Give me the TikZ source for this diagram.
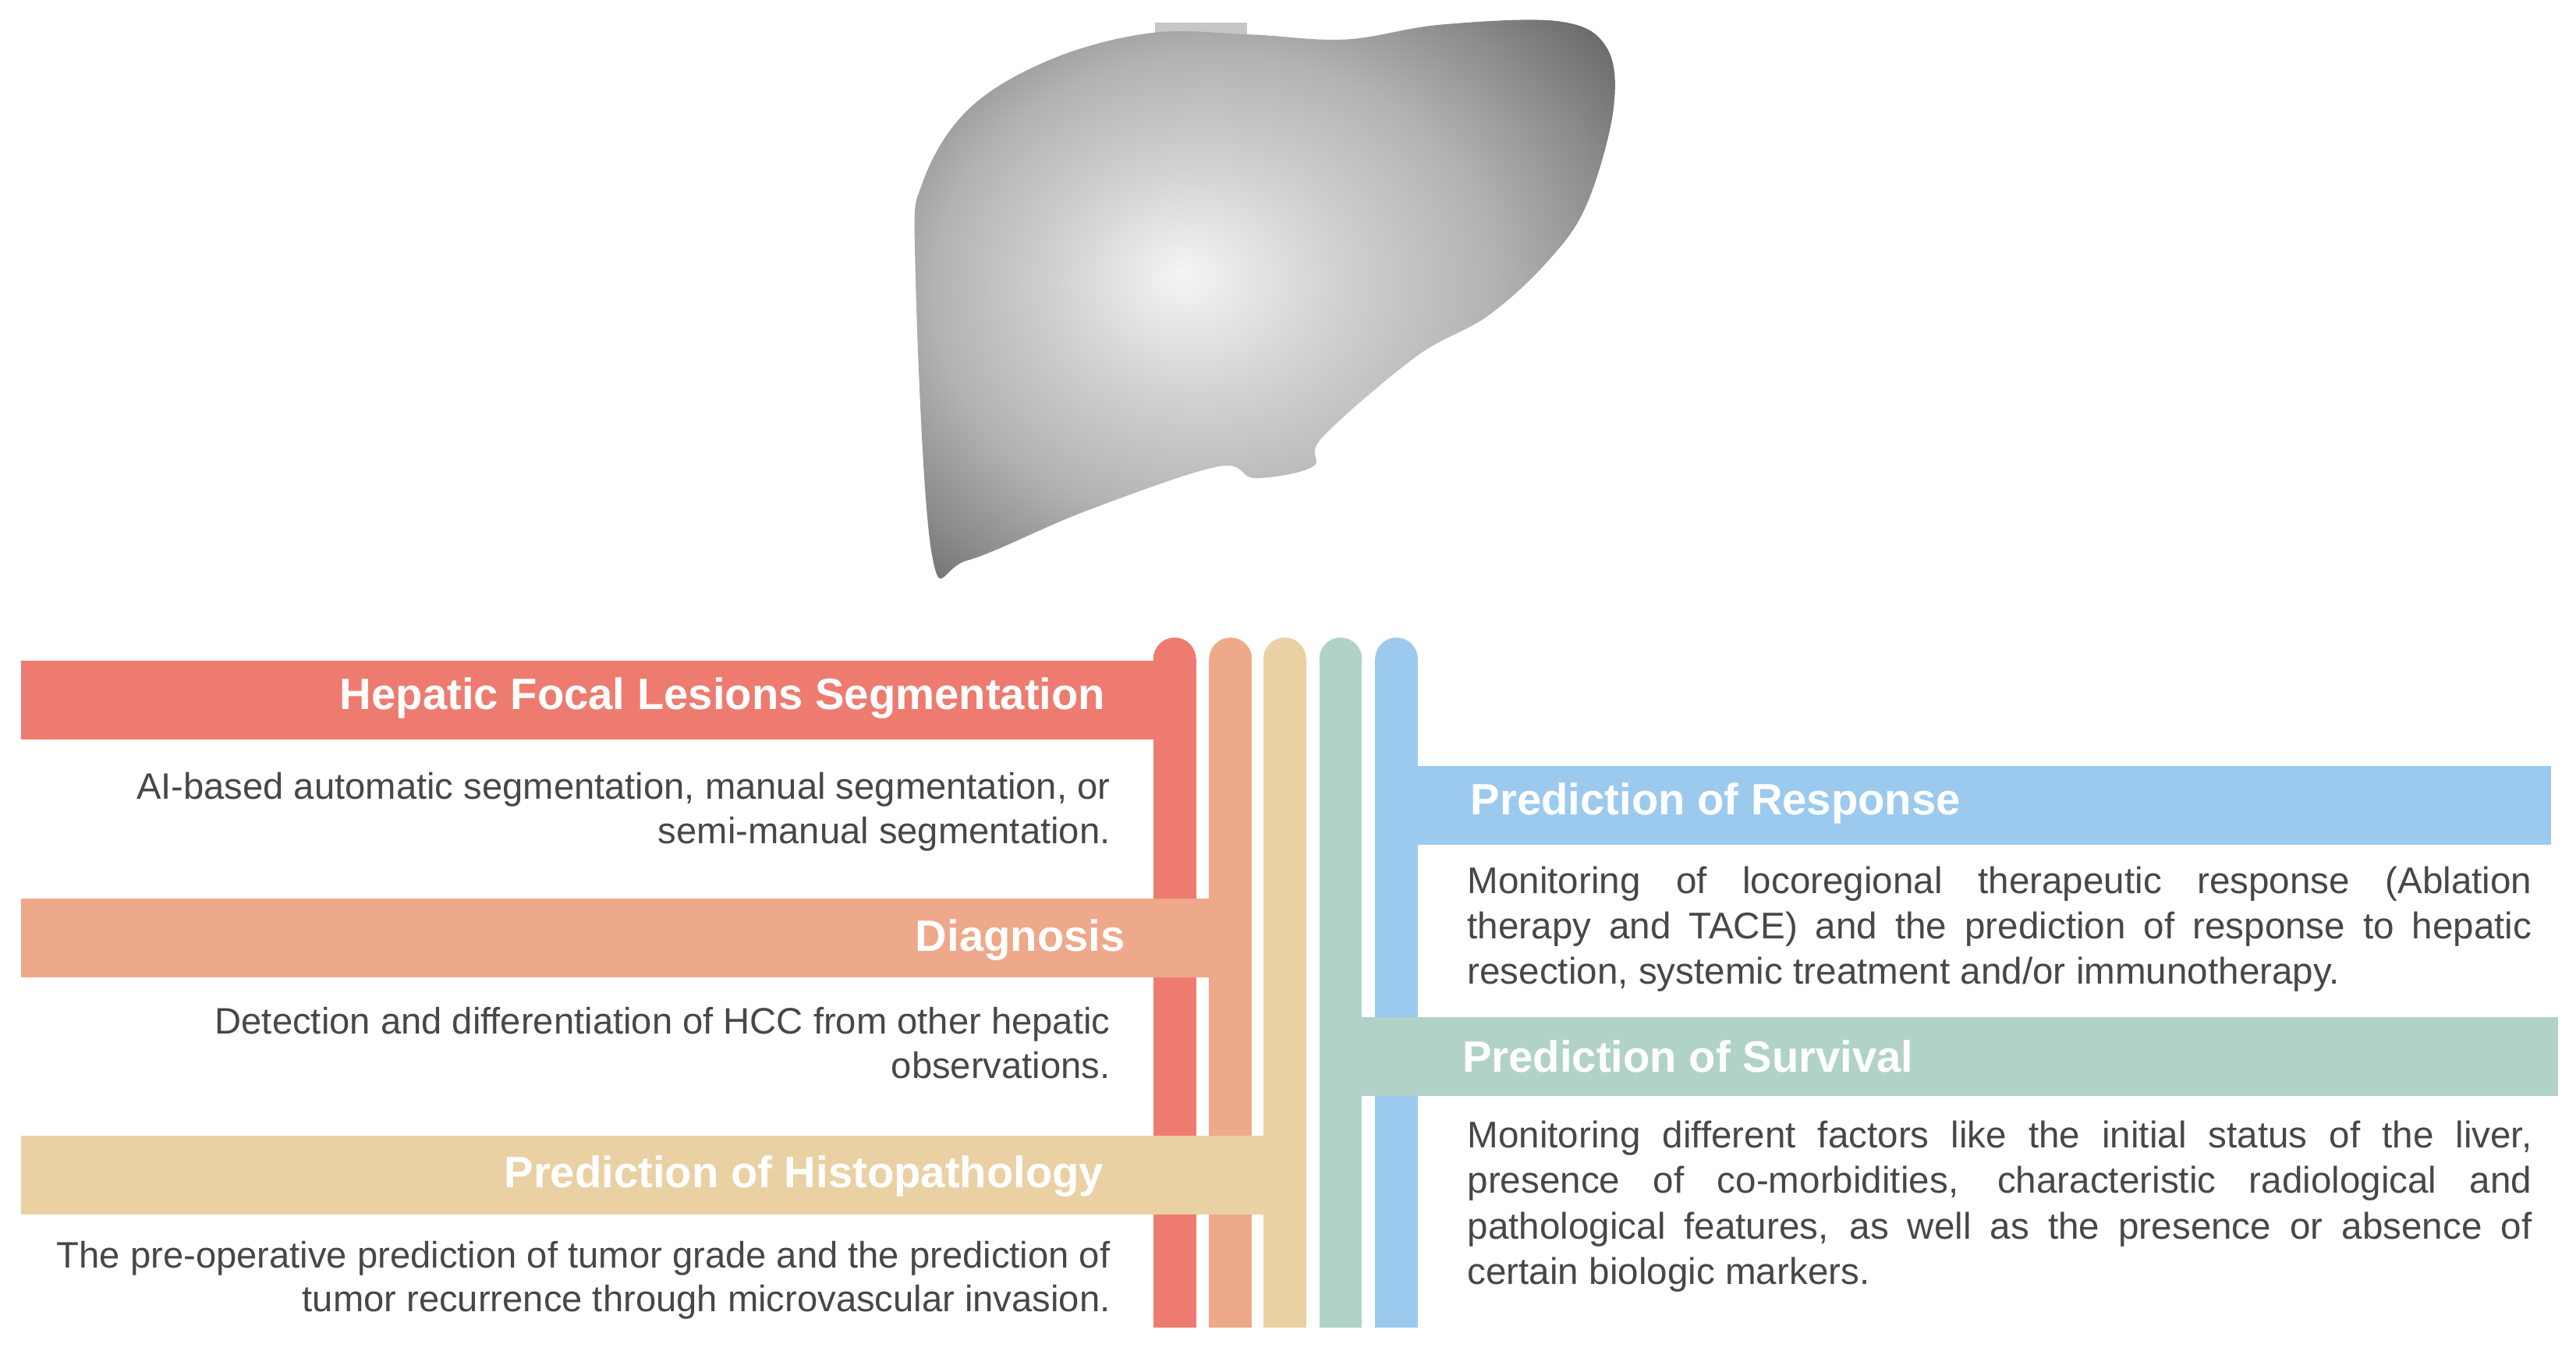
\documentclass[tikz,border=0pt]{standalone}
\usepackage{fontspec}
\setmainfont{Liberation Sans}
\hyphenpenalty=10000
\exhyphenpenalty=10000
\definecolor{cR}{HTML}{EE7B70}
\definecolor{cS}{HTML}{EEA88A}
\definecolor{cB}{HTML}{E9D1A4}
\definecolor{cG}{HTML}{B1D2C8}
\definecolor{cU}{HTML}{9BCAEE}
\definecolor{txt}{HTML}{474747}
\pgfdeclareradialshading{liv}{\pgfpoint{-6bp}{3bp}}{color(0bp)=(black!4); color(10bp)=(black!18); color(20bp)=(black!30); color(28bp)=(black!45); color(36bp)=(black!62); color(50bp)=(black!75)}
\tikzset{
 title/.style={text=white,font=\fontsize{26.7}{32}\selectfont\bfseries,inner sep=0pt},
 bodyR/.style={text=txt,font=\fontsize{22.4}{27}\selectfont,inner sep=0pt,align=right},
 bodyJ/.style={text=txt,font=\fontsize{22.6}{27.7}\selectfont,inner sep=0pt,text width=648pt,align=justify},
}
\begin{document}
\begin{tikzpicture}[x=1pt,y=-1pt]
\useasboundingbox (0,0) rectangle (1568,822);
% liver
\fill[black!22] (703,14) rectangle (759,22);
\path[shading=liv]
 plot[smooth cycle,tension=0.6] coordinates{(567,336)(557,158)(562,110)(590,66)(640,36)(701,20)(761,21)(819,24)(877,15)(949,13)(978,29)(982,67)(966,124)(943,158)(906,192)(862,217)(805,266)(799,284)(764,291)(741,284)(661,311)(589,341)};
% vertical bars
\foreach \x/\c in {702/cR,736/cS,769/cB,803/cG,837/cU}{
 \fill[\c] (\x,401) rectangle (\x+26,808);
 \fill[\c] (\x+13,401) ellipse (13 and 13);
}
% horizontal bars
\fill[cR] (13,402) rectangle (728,450);
\fill[cS] (13,547) rectangle (762,595);
\fill[cB] (13,691) rectangle (795,739);
\fill[cU] (837,466) rectangle (1553,514);
\fill[cG] (803,619) rectangle (1557,667);
% titles
\node[title,anchor=east] (t1) at (673,425) {Hepatic Focal Lesions Segmentation};
\node[title,anchor=east] (t2) at (685,572) {Diagnosis};
\node[title,anchor=east] (t3) at (672,716) {Prediction of Histopathology};
\node[title,anchor=west] (t4) at (895,489) {Prediction of Response};
\node[title,anchor=west] (t5) at (890,643) {Prediction of Survival};
% bodies
\node[bodyR,anchor=north east] (b1) at (676,470) {AI-based automatic segmentation, manual segmentation, or\\semi-manual segmentation.};
\node[bodyR,anchor=north east] (b2) at (676,613) {Detection and differentiation of HCC from other hepatic\\observations.};
\node[bodyR,anchor=north east] (b3) at (676,755) {The pre-operative prediction of tumor grade and the prediction of\\tumor recurrence through microvascular invasion.};
\node[bodyJ,anchor=north west] (b4) at (893,527) {Monitoring of locoregional therapeutic response (Ablation\linebreak therapy and TACE) and the prediction of response to hepatic resection, systemic treatment and/or immunotherapy.};
\node[bodyJ,anchor=north west] (b5) at (893,682) {Monitoring different factors like the initial status of the liver, presence of co-morbidities, characteristic radiological and pathological features, as well as the presence or absence of certain biologic markers.};
\end{tikzpicture}
\end{document}
